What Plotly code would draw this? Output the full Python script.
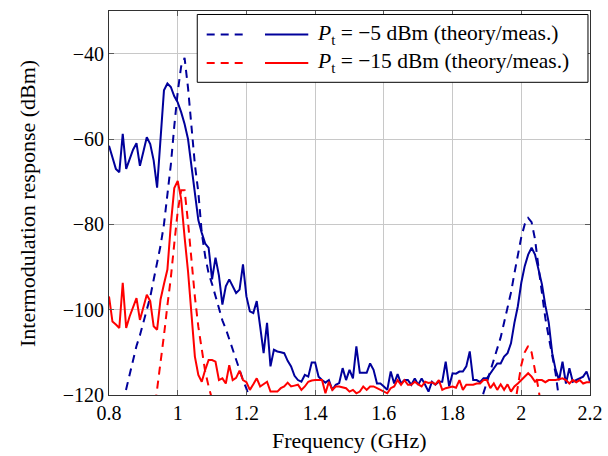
import plotly.graph_objects as go

# ---- data ----
freq_meas = [round(0.80 + 0.01 * i, 2) for i in range(141)]

meas_m5 = [
    -61.6, -64.5, -67.0, -67.8, -58.8, -67.0, -64.5, -62.5, -61.0, -66.3,
    -63.0, -59.6, -61.2, -65.0, -71.4, -60.0, -48.6, -47.0, -47.8, -50.0,
    -51.4, -53.7, -56.5, -60.0, -66.0, -73.3, -79.0, -82.0, -84.5, -85.5,
    -92.9, -87.8, -92.0, -98.8, -94.5, -92.9, -94.5, -96.1, -95.3, -89.4,
    -96.9, -100.4, -100.8, -98.0, -104.0, -110.2, -103.1, -113.3, -109.4, -109.8,
    -110.0, -110.2, -112.0, -113.3, -115.5, -116.5, -116.9, -115.3, -115.7, -112.4,
    -112.4, -115.7, -116.5, -117.1, -116.5, -118.8, -117.6, -117.2, -113.7, -116.5,
    -114.1, -116.1, -108.6, -114.8, -114.8, -114.8, -112.6, -114.1, -117.3, -117.3,
    -118.0, -118.8, -114.5, -117.3, -115.1, -117.3, -116.5, -116.5, -117.6, -116.1,
    -117.6, -116.1, -117.6, -119.2, -116.9, -117.6, -116.9, -116.9, -112.2, -118.0,
    -114.9, -115.0, -114.5, -114.5, -113.3, -109.8, -116.5, -116.5, -117.0, -116.1,
    -116.1, -114.9, -113.7, -112.6, -112.6, -111.0, -110.2, -107.9, -103.1, -99.2,
    -93.7, -89.8, -87.1, -85.5, -87.1, -90.6, -94.0, -99.0, -103.1, -110.2,
    -114.1, -116.5, -112.2, -117.3, -113.7, -116.9, -116.5, -116.1, -115.7, -114.5,
    -116.9,
]

meas_m15 = [
    -96.9, -102.8, -103.5, -104.3, -93.7, -104.3, -101.6, -99.5, -97.3, -102.4,
    -99.5, -96.5, -98.0, -103.9, -104.7, -97.6, -94.0, -90.6, -80.0, -71.5,
    -69.8, -74.1, -83.0, -91.0, -101.0, -111.0, -115.3, -116.9, -114.1, -111.8,
    -111.8, -112.2, -116.5, -116.1, -117.3, -113.0, -116.5, -116.0, -114.3, -116.5,
    -117.0, -118.8, -117.5, -116.1, -118.0, -117.5, -116.9, -119.2, -119.2, -119.2,
    -118.4, -118.0, -117.1, -118.0, -117.8, -117.6, -118.8, -118.0, -116.9, -116.6,
    -116.5, -116.5, -116.5, -119.6, -116.9, -118.8, -118.0, -118.0, -118.2, -118.4,
    -119.2, -118.8, -119.6, -119.2, -118.0, -118.8, -118.0, -118.0, -118.4, -118.8,
    -119.2, -119.6, -118.4, -118.0, -116.5, -117.6, -116.5, -117.6, -117.6, -116.9,
    -117.5, -118.0, -116.9, -117.2, -117.0, -117.5, -116.5, -118.8, -118.4, -118.2,
    -118.0, -118.3, -116.5, -118.8, -117.6, -117.6, -117.6, -117.3, -117.3, -116.5,
    -116.5, -118.4, -117.3, -118.8, -117.5, -118.8, -117.5, -119.2, -118.0, -117.3,
    -116.5, -115.5, -114.9, -115.7, -116.9, -116.5, -116.5, -117.0, -116.5, -116.5,
    -116.5, -116.3, -116.1, -116.5, -117.3, -116.5, -117.0, -116.5, -117.3, -117.0,
    -117.0,
]

# theory curves (dashed)
freq_th_m5_a = [round(0.84 + 0.01 * i, 2) for i in range(38)]
theory_m5_a = [
    -122.0, -118.5, -115.0, -111.5, -108.5, -106.0, -103.0, -100.0, -97.0, -93.0,
    -89.0, -85.0, -80.0, -73.5, -66.0, -57.0, -49.0, -43.0, -41.0, -48.0,
    -58.0, -66.0, -72.5, -82.0, -87.5, -91.5, -94.0, -97.0, -100.0, -102.5,
    -104.5, -107.0, -109.0, -111.5, -114.0, -116.5, -118.5, -121.0,
]
freq_th_m5_b = [round(1.88 + 0.01 * i, 2) for i in range(24)]
theory_m5_b = [
    -123.0, -119.5, -117.0, -114.5, -112.0, -109.5, -106.5, -103.0, -99.5, -96.0,
    -91.5, -87.0, -83.0, -80.0, -78.5, -79.5, -83.5, -90.0, -96.5, -102.0,
    -106.5, -110.5, -115.0, -121.0,
]
freq_th_m15_a = [round(0.93 + 0.01 * i, 2) for i in range(18)]
theory_m15_a = [
    -125.0, -119.0, -113.0, -106.0, -99.0, -92.5, -84.5, -77.0, -72.0, -72.0,
    -79.5, -89.0, -97.0, -104.0, -109.5, -114.5, -118.0, -121.0,
]
freq_th_m15_b = [round(1.98 + 0.01 * i, 2) for i in range(9)]
theory_m15_b = [-123.0, -118.0, -113.0, -110.0, -108.5, -110.0, -114.0, -118.5, -124.0]

x_tickvals = [0.8, 1.0, 1.2, 1.4, 1.6, 1.8, 2.0, 2.2]
x_ticktext = ["0.8", "1", "1.2", "1.4", "1.6", "1.8", "2", "2.2"]
y_tickvals = [-120, -100, -80, -60, -40]
y_ticktext = ["\u2212120", "\u2212100", "\u221280", "\u221260", "\u221240"]

legend_labels = [
    "<i>P</i><sub>t</sub> = \u22125 dBm (theory/meas.)",
    "<i>P</i><sub>t</sub> = \u221215 dBm (theory/meas.)",
]
x_title = "Frequency (GHz)"
y_title = "Intermodulation response (dBm)"

BLUE = "rgb(0,0,155)"
RED = "rgb(255,0,0)"
DASH = "8px,6px"
FONT = "Liberation Serif"

fig = go.Figure()
for xs, ys, col in [
    (freq_th_m5_a, theory_m5_a, BLUE),
    (freq_th_m5_b, theory_m5_b, BLUE),
    (freq_th_m15_a, theory_m15_a, RED),
    (freq_th_m15_b, theory_m15_b, RED),
]:
    fig.add_trace(go.Scatter(x=xs, y=ys, mode="lines",
                             line=dict(color=col, width=2, dash=DASH),
                             showlegend=False))
fig.add_trace(go.Scatter(x=freq_meas, y=meas_m5, mode="lines",
                         line=dict(color=BLUE, width=2), showlegend=False))
fig.add_trace(go.Scatter(x=freq_meas, y=meas_m15, mode="lines",
                         line=dict(color=RED, width=2), showlegend=False))

# manual legend
lx0, lx1, ly0, ly1 = 0.1835, 0.9958, 0.8143, 0.9909
fig.add_shape(type="rect", xref="paper", yref="paper", x0=lx0, x1=lx1, y0=ly0, y1=ly1,
              line=dict(color="black", width=1), fillcolor="white", layer="above")
rows = [0.9387, 0.8649]
for yr, col, lab in zip(rows, [BLUE, RED], legend_labels):
    fig.add_shape(type="line", xref="paper", yref="paper", x0=0.2031, x1=0.2827, y0=yr, y1=yr,
                  line=dict(color=col, width=2, dash=DASH), layer="above")
    fig.add_shape(type="line", xref="paper", yref="paper", x0=0.3243, x1=0.4143, y0=yr, y1=yr,
                  line=dict(color=col, width=2), layer="above")
    fig.add_annotation(xref="paper", yref="paper", x=0.4283, y=yr, text=lab,
                       showarrow=False, xanchor="left", yanchor="middle",
                       font=dict(family=FONT, size=21.5, color="black"))

# axis titles as annotations for exact placement
fig.add_annotation(xref="paper", yref="paper", x=0.5, y=-0.1173, text=x_title,
                   showarrow=False, xanchor="center", yanchor="middle",
                   font=dict(family=FONT, size=22, color="black"))
fig.add_annotation(xref="paper", yref="paper", x=-0.1705, y=0.5, text=y_title,
                   showarrow=False, xanchor="center", yanchor="middle", textangle=-90,
                   font=dict(family=FONT, size=22, color="black"))

axis_common = dict(
    showgrid=True, gridcolor="rgb(200,200,200)", gridwidth=1,
    showline=True, linecolor="rgb(50,50,50)", linewidth=1, mirror="ticks",
    ticks="inside", ticklen=5, tickcolor="rgb(90,90,90)",
    tickfont=dict(family=FONT, size=20, color="black"),
    zeroline=False, automargin=False,
)
fig.update_xaxes(range=[0.8, 2.2], tickmode="array", tickvals=x_tickvals, ticktext=x_ticktext,
                 **axis_common)
fig.update_yaxes(range=[-120, -30], tickmode="array", tickvals=y_tickvals, ticktext=y_ticktext,
                 **axis_common)
fig.update_layout(
    width=608, height=456,
    margin=dict(l=109, r=18, t=11, b=61),
    plot_bgcolor="white", paper_bgcolor="white",
    showlegend=False,
)
fig.write_html("out.html",
               config={"displayModeBar": False, "staticPlot": True},
               post_script="document.body.style.margin='0';document.body.style.overflow='hidden';")
